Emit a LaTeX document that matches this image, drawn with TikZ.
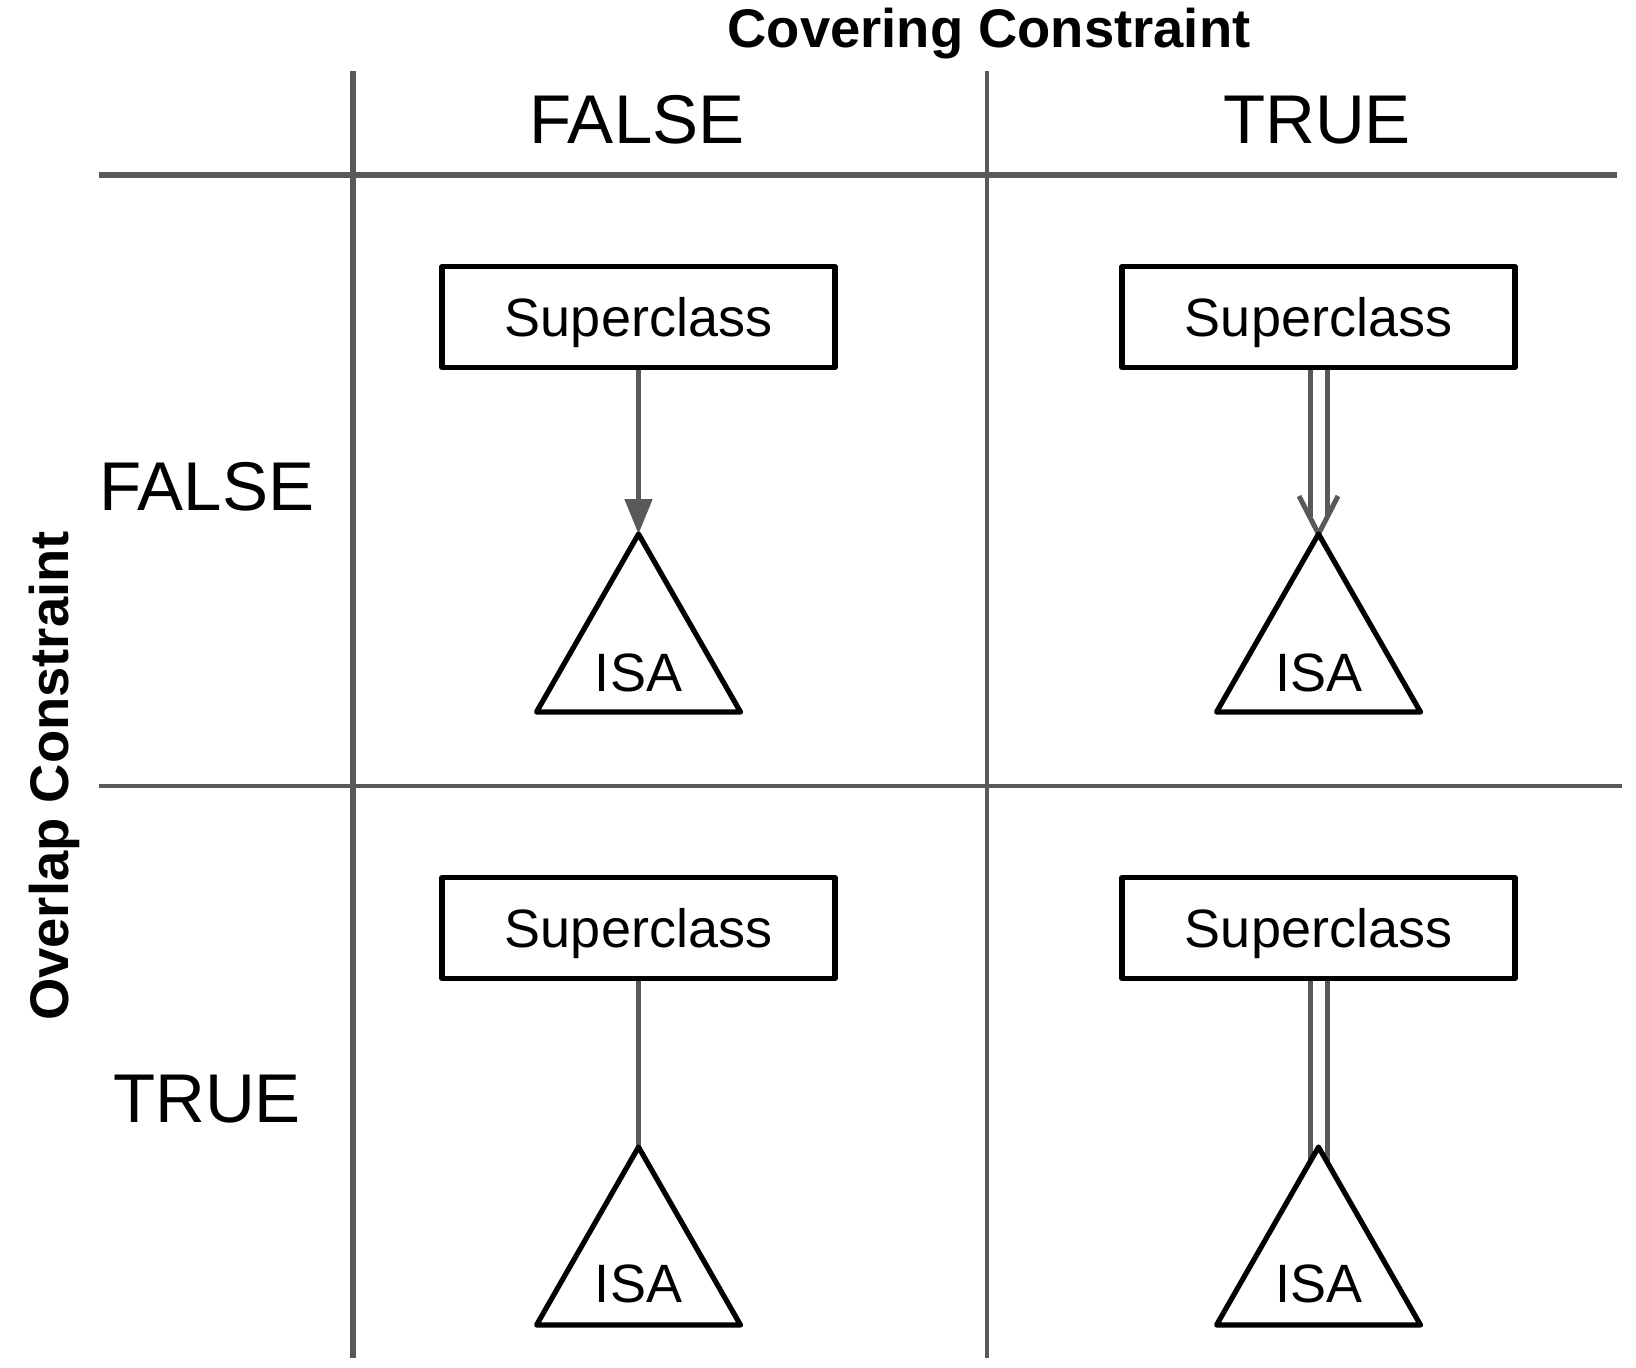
\documentclass[tikz,border=0pt]{standalone}
\usepackage{fontspec}
\setmainfont{Liberation Sans}
\usepackage{tikz}
\usetikzlibrary{arrows.meta,positioning,calc}

\begin{document}
\begin{tikzpicture}[
    x=0.5pt, y=-0.5pt,
    grid/.style={draw=black!65},
    superbox/.style={rectangle, draw=black, line width=2.6pt, line join=round, minimum width=196.5pt, minimum height=50.25pt, inner sep=0pt, text height=19.3pt, text depth=0pt, font=\fontsize{27}{30}\selectfont},
    isatri/.style={draw=black, fill=white, line width=2.6pt, line join=round},
    isalabel/.style={anchor=base, font=\fontsize{27}{30}\selectfont},
    head/.style={anchor=base, font=\fontsize{34.5}{40}\selectfont},
    axis/.style={anchor=base, font=\bfseries\fontsize{27.2}{30}\selectfont},
    link/.style={draw=black!65, line width=2.5pt},
    arrow/.style={link, -{Triangle[length=17.5pt, width=13.5pt]}}
]
    \useasboundingbox (0,0) rectangle (1636,1367);

    % Axis titles
    \node[axis] (cover) at (989,47) {Covering Constraint};
    \node[axis, rotate=90] (overlap) at (68,776) {Overlap Constraint};

    % Grid
    \draw[grid, line width=3pt] (99,175) -- (1617,175);
    \draw[grid, line width=1.75pt] (99,786) -- (1622,786);
    \draw[grid, line width=2.75pt] (353,71) -- (353,1358);
    \draw[grid, line width=1.75pt] (987,71) -- (987,1358);

    % Column and row headers
    \node[head] (colfalse) at (637,143) {FALSE};
    \node[head] (coltrue) at (1317,143) {TRUE};
    \node[head] (rowfalse) at (207,510) {FALSE};
    \node[head] (rowtrue) at (207,1122) {TRUE};

    % Superclasses
    \node[superbox] (sc1) at (638.5,317) {Superclass};
    \node[superbox] (sc2) at (1318.5,317) {Superclass};
    \node[superbox] (sc3) at (638.5,928) {Superclass};
    \node[superbox] (sc4) at (1318.5,928) {Superclass};

    % ISA apexes
    \coordinate (isa1) at (638.5,534);
    \coordinate (isa2) at (1318.5,534);
    \coordinate (isa3) at (638.5,1147);
    \coordinate (isa4) at (1318.5,1147);

    % Links
    \draw[arrow] (sc1.south) -- (isa1);
    \draw[link] ($(sc2.south)+(-8.5,0)$) -- ($(isa2)+(-8.5,-16.6)$);
    \draw[link] ($(sc2.south)+(8.5,0)$) -- ($(isa2)+(8.5,-16.6)$);
    \draw[link] ($(isa2)+(-19.5,-38)$) -- (isa2) -- ($(isa2)+(19.5,-38)$);
    \draw[link] (sc3.south) -- (isa3);
    \draw[link] ($(sc4.south)+(-8.5,0)$) -- ($(isa4)+(-8.5,15)$);
    \draw[link] ($(sc4.south)+(8.5,0)$) -- ($(isa4)+(8.5,15)$);

    % ISA triangles
    \draw[isatri] (isa1) -- ++(-102,178) -- ++(204,0) -- cycle;
    \draw[isatri] (isa2) -- ++(-102,178) -- ++(204,0) -- cycle;
    \draw[isatri] (isa3) -- ++(-102,178) -- ++(204,0) -- cycle;
    \draw[isatri] (isa4) -- ++(-102,178) -- ++(204,0) -- cycle;
    \node[isalabel] (t1) at ($(isa1)+(0,157)$) {ISA};
    \node[isalabel] (t2) at ($(isa2)+(0,157)$) {ISA};
    \node[isalabel] (t3) at ($(isa3)+(0,155)$) {ISA};
    \node[isalabel] (t4) at ($(isa4)+(0,155)$) {ISA};
\end{tikzpicture}
\end{document}
